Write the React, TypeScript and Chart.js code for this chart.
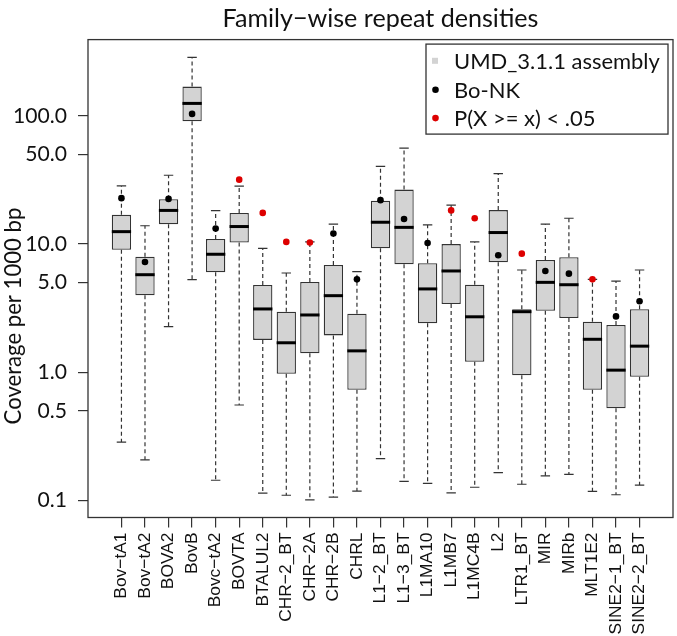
import React, { useEffect, useRef } from "react";
import { Chart, registerables } from "chart.js";

Chart.register(...registerables);

// ---------- data ----------
const categories = [
  "Bov−tA1", "Bov−tA2", "BOVA2", "BovB", "Bovc−tA2", "BOVTA", "BTALUL2", "CHR−2_BT",
  "CHR−2A", "CHR−2B", "CHRL", "L1−2_BT", "L1−3_BT", "L1MA10", "L1MB7", "L1MC4B",
  "L2", "LTR1_BT", "MIR", "MIRb", "MLT1E2", "SINE2−1_BT", "SINE2−2_BT",
];
const whiskerLow = [0.286, 0.208, 2.27, 5.28, 0.144, 0.556, 0.1145, 0.110, 0.1014, 0.1065, 0.1186, 0.212, 0.141, 0.136, 0.115, 0.127, 0.165, 0.134, 0.156, 0.160, 0.118, 0.111, 0.132];
const q1 = [9.04, 3.99, 14.3, 90.8, 6.03, 10.3, 1.79, 0.976, 1.41, 1.94, 0.732, 9.27, 6.96, 2.41, 3.41, 1.21, 7.21, 0.947, 3.02, 2.65, 0.732, 0.524, 0.924];
const median = [12.5, 5.77, 18.3, 125, 8.33, 13.7, 3.12, 1.70, 2.80, 3.96, 1.47, 14.8, 13.5, 4.47, 6.17, 2.71, 12.3, 2.97, 5.03, 4.82, 1.81, 1.04, 1.60];
const q3 = [16.9, 7.98, 22.4, 169, 10.96, 17.5, 4.80, 2.97, 5.06, 6.87, 2.86, 21.8, 26.6, 7.08, 10.0, 4.82, 18.4, 3.10, 7.51, 7.89, 2.48, 2.34, 3.10];
const whiskerHigh = [28.4, 13.9, 34.4, 286, 18.2, 28.3, 9.27, 5.95, 10.4, 14.3, 6.09, 40.4, 55.9, 14.1, 20.1, 10.4, 35.4, 6.28, 14.3, 15.9, 5.31, 5.15, 6.28];
const boNK = [22.8, 7.25, 22.5, 103.5, 13.2, 31.8, 17.5, 10.4, 10.3, 12.1, 5.31, 22.0, 15.7, 10.2, 18.3, 15.9, 8.18, 8.42, 6.17, 5.88, 5.31, 2.73, 3.58];
const significant = [false, false, false, false, false, true, true, true, true, false, false, false, false, false, true, true, false, true, false, false, true, false, false];
const yTickValues = [0.1, 0.5, 1, 5, 10, 50, 100];
const yTickLabels = ["0.1", "0.5", "1.0", "5.0", "10.0", "50.0", "100.0"];
const titleText = "Family−wise repeat densities";
const yTitleText = "Coverage per 1000 bp";
const legendLabels = ["UMD_3.1.1 assembly", "Bo-NK", "P(X >= x) < .05"];

// ---------- styles ----------
const BOX_FILL = "#d3d3d3";
const LINE = "#333333";
const RED = "#dd0000";
const SANS = "Lato, 'Noto Sans', sans-serif";
const XFONT = "'Liberation Sans', Arial, sans-serif";

function fit(text: string, family: string, target: number): number {
  const c = document.createElement("canvas").getContext("2d")!;
  c.font = `100px ${family}`;
  return (100 * target) / c.measureText(text).width;
}

export default function App() {
  const ref = useRef<HTMLCanvasElement | null>(null);

  useEffect(() => {
    if (!ref.current) return;
    const titleSize = fit(titleText, SANS, 316);
    const tickSize = fit("100.0", SANS, 54);
    const yTitleSize = fit(yTitleText, SANS, 217);
    const legendSize = fit(legendLabels[0], SANS, 206);
    const xSize = fit("SINE2−2_BT", XFONT, 102);

    const logs = [...whiskerLow, ...whiskerHigh].map((v) => Math.log10(v));
    const lmin = Math.min(...logs);
    const lmax = Math.max(...logs);
    const ext = 0.04 * (lmax - lmin);
    const yMin = Math.pow(10, lmin - ext);
    const yMax = Math.pow(10, lmax + ext);
    const xExt = 0.04 * categories.length;

    const extras = {
      id: "boxExtras",
      afterDatasetDraw(chart: any, args: any) {
        if (args.index !== 0) return;
        const { ctx } = chart;
        const x = chart.scales.x;
        const y = chart.scales.y;
        const unit = x.getPixelForValue(1) - x.getPixelForValue(0);
        ctx.save();
        categories.forEach((_, i) => {
          const px = x.getPixelForValue(i + 1);
          ctx.strokeStyle = LINE;
          ctx.lineWidth = 1.2;
          ctx.setLineDash([4, 3]);
          ctx.beginPath();
          ctx.moveTo(px, y.getPixelForValue(q3[i]));
          ctx.lineTo(px, y.getPixelForValue(whiskerHigh[i]));
          ctx.moveTo(px, y.getPixelForValue(q1[i]));
          ctx.lineTo(px, y.getPixelForValue(whiskerLow[i]));
          ctx.stroke();
          ctx.setLineDash([]);
          const cw = unit * 0.2;
          ctx.beginPath();
          const yh = y.getPixelForValue(whiskerHigh[i]);
          const yl = y.getPixelForValue(whiskerLow[i]);
          ctx.moveTo(px - cw, yh);
          ctx.lineTo(px + cw, yh);
          ctx.moveTo(px - cw, yl);
          ctx.lineTo(px + cw, yl);
          ctx.stroke();
          const bw = unit * 0.41;
          const ym = y.getPixelForValue(median[i]);
          ctx.strokeStyle = "#000";
          ctx.lineWidth = 3;
          ctx.beginPath();
          ctx.moveTo(px - bw, ym);
          ctx.lineTo(px + bw, ym);
          ctx.stroke();
        });
        ctx.restore();
      },
      afterDraw(chart: any) {
        const { ctx, chartArea: a } = chart;
        ctx.save();
        // frame
        ctx.strokeStyle = LINE;
        ctx.lineWidth = 1.3;
        ctx.strokeRect(a.left, a.top, a.right - a.left, a.bottom - a.top);
        // title
        ctx.fillStyle = "#111";
        ctx.font = `${titleSize}px ${SANS}`;
        ctx.textAlign = "center";
        ctx.textBaseline = "alphabetic";
        ctx.fillText(titleText, (a.left + a.right) / 2, 26.7);
        // y title
        ctx.save();
        ctx.translate(20.5, 316);
        ctx.rotate(-Math.PI / 2);
        ctx.font = `${yTitleSize}px ${SANS}`;
        ctx.textAlign = "center";
        ctx.fillText(yTitleText, 0, 0);
        ctx.restore();
        // legend
        const lw = 242, lh = 90;
        const lr = a.right - 5;
        const lt = a.top + 4.5;
        const ll = lr - lw;
        ctx.fillStyle = "#fff";
        ctx.fillRect(ll, lt, lw, lh);
        ctx.strokeStyle = LINE;
        ctx.lineWidth = 1.3;
        ctx.strokeRect(ll, lt, lw, lh);
        const rows = [16.7, 45.7, 74];
        ctx.fillStyle = BOX_FILL;
        ctx.fillRect(ll + 6, lt + rows[0] - 3, 6, 6);
        ctx.fillStyle = "#000";
        ctx.beginPath();
        ctx.arc(ll + 9.5, lt + rows[1], 3.3, 0, Math.PI * 2);
        ctx.fill();
        ctx.fillStyle = RED;
        ctx.beginPath();
        ctx.arc(ll + 9.5, lt + rows[2], 3.3, 0, Math.PI * 2);
        ctx.fill();
        ctx.fillStyle = "#111";
        ctx.font = `${legendSize}px ${SANS}`;
        ctx.textAlign = "left";
        ctx.textBaseline = "middle";
        legendLabels.forEach((t, i) => ctx.fillText(t, ll + 28, lt + rows[i] + 1));
        ctx.restore();
      },
    };

    const chart = new Chart(ref.current, {
      type: "bar",
      data: {
        datasets: [
          {
            type: "bar",
            order: 2,
            data: categories.map((_, i) => ({ x: i + 1, y: [q1[i], q3[i]] })) as any,
            backgroundColor: BOX_FILL,
            borderColor: LINE,
            borderWidth: 1.3,
            borderSkipped: false,
            barPercentage: 0.82,
            categoryPercentage: 1,
          } as any,
          {
            type: "scatter",
            order: 1,
            data: categories.map((_, i) => ({ x: i + 1, y: significant[i] ? null : boNK[i] })) as any,
            backgroundColor: "#000",
            borderWidth: 0,
            pointRadius: 3.3,
          } as any,
          {
            type: "scatter",
            order: 1,
            data: categories.map((_, i) => ({ x: i + 1, y: significant[i] ? boNK[i] : null })) as any,
            backgroundColor: RED,
            borderWidth: 0,
            pointRadius: 3.3,
          } as any,
        ],
      },
      options: {
        responsive: false,
        animation: false,
        events: [],
        layout: { padding: { top: 39.6, right: 3, left: 0, bottom: 0 } },
        plugins: { legend: { display: false }, tooltip: { enabled: false }, title: { display: false } },
        scales: {
          x: {
            type: "linear",
            offset: false,
            min: 0.5 - xExt,
            max: categories.length + 0.5 + xExt,
            afterBuildTicks: (s: any) => {
              s.ticks = categories.map((_, i) => ({ value: i + 1 }));
            },
            afterFit: (s: any) => {
              s.height = 118.5;
            },
            ticks: {
              autoSkip: false,
              minRotation: 90,
              maxRotation: 90,
              padding: 5,
              color: "#111",
              font: { family: XFONT, size: xSize },
              callback: (v: any) => categories[Math.round(Number(v)) - 1],
            },
            grid: { display: true, drawOnChartArea: false, drawTicks: true, tickLength: 10, color: LINE, lineWidth: 1.2, offset: false },
            border: { display: false },
          },
          y: {
            type: "logarithmic",
            min: yMin,
            max: yMax,
            afterBuildTicks: (s: any) => {
              s.ticks = yTickValues.map((v) => ({ value: v }));
            },
            afterFit: (s: any) => {
              s.width = 88;
            },
            ticks: {
              padding: 11,
              color: "#111",
              font: { family: SANS, size: tickSize },
              callback: (_v: any, idx: number) => yTickLabels[idx],
            },
            grid: { display: true, drawOnChartArea: false, drawTicks: true, tickLength: 10, color: LINE, lineWidth: 1.2 },
            border: { display: false },
          },
        },
      } as any,
      plugins: [extras],
    });
    return () => chart.destroy();
  }, []);

  return (
    <div style={{ position: "absolute", left: 0, top: 0, width: 677, height: 636, background: "#fff" }}>
      <canvas ref={ref} width={677} height={636} style={{ display: "block" }} />
    </div>
  );
}
